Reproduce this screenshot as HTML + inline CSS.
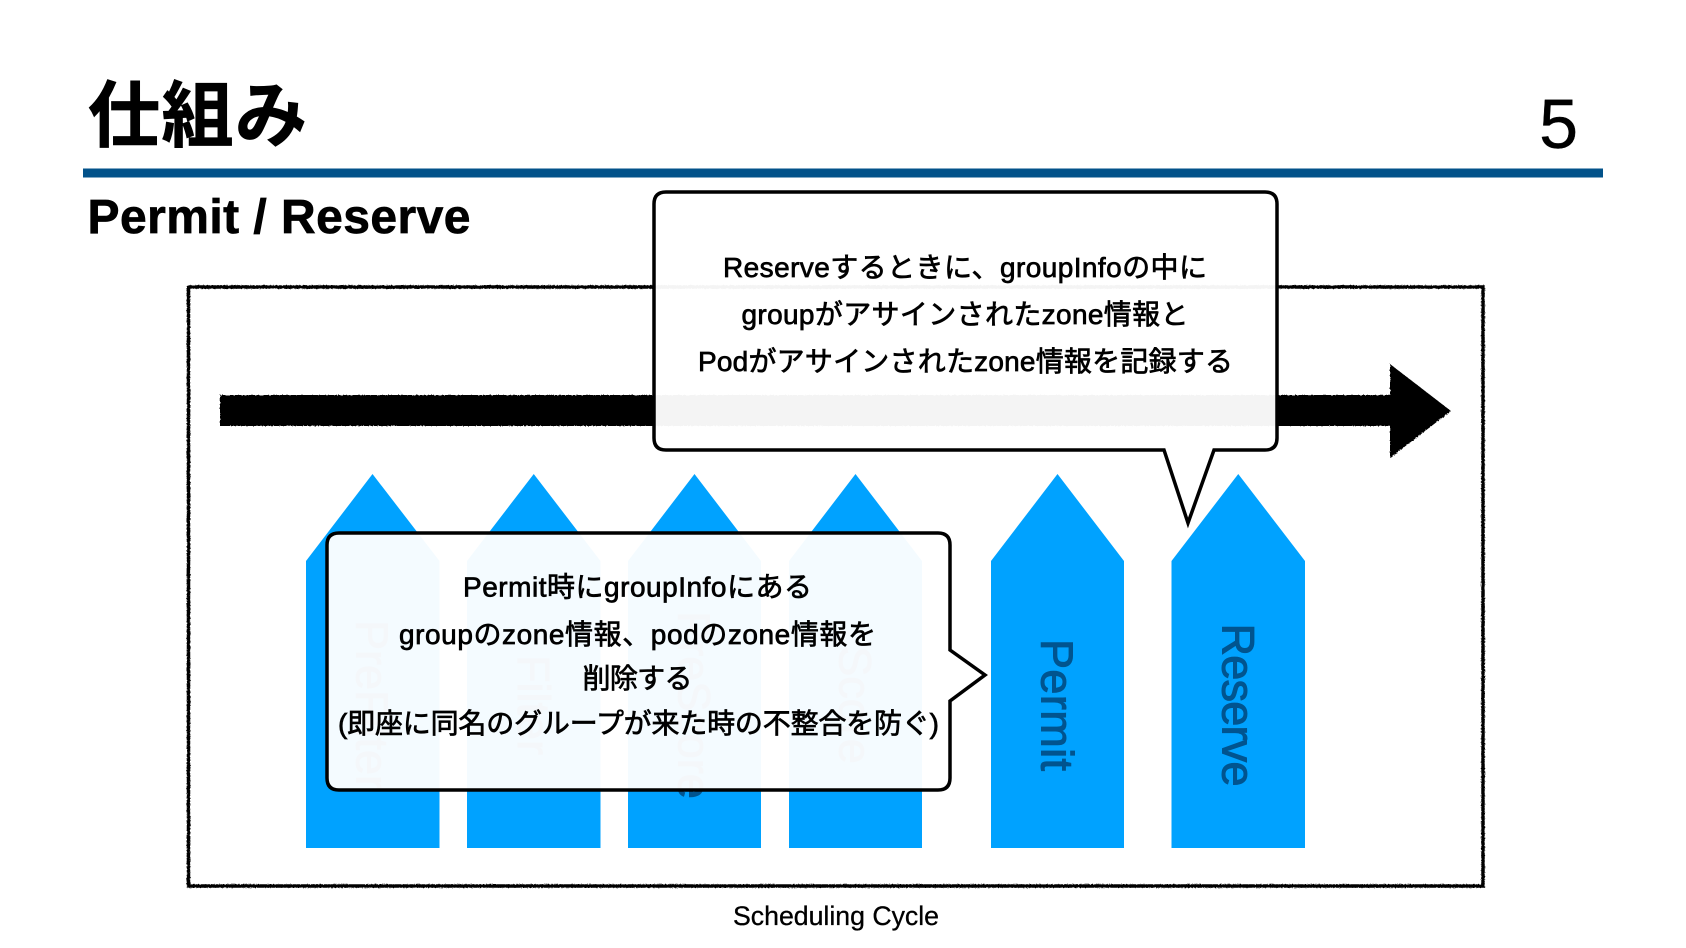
<!DOCTYPE html>
<html lang="ja"><head><meta charset="utf-8"><title>仕組み</title>
<style>html,body{margin:0;padding:0;background:#fff;width:1686px;height:948px;overflow:hidden}svg{display:block}
text{font-family:"Liberation Sans","Noto Sans CJK JP",sans-serif}
.c{font-size:28px;fill:#000;stroke:#000;stroke-width:.7;text-anchor:middle}
.b{font-size:45px;fill:#01548f;stroke:#01548f;stroke-width:1;text-anchor:middle}
</style></head><body>
<svg width="1686" height="948" viewBox="0 0 1686 948" xmlns="http://www.w3.org/2000/svg">
<defs><filter id="r" x="-2%" y="-2%" width="104%" height="104%"><feTurbulence type="fractalNoise" baseFrequency=".6" numOctaves="2" seed="3"/><feDisplacementMap in="SourceGraphic" scale="2"/></filter></defs>
<text x="88" y="141" font-size="72" font-weight="700" textLength="219" stroke="#000" stroke-width=".8" style="font-family:'Noto Sans CJK JP',sans-serif">仕組み</text>
<text x="1578" y="148" font-size="70" text-anchor="end" stroke="#000" stroke-width=".4">5</text>
<rect x="83" y="168.5" width="1520" height="9" fill="#02528a"/>
<text x="87.500" y="233" font-size="48" font-weight="700" textLength="383" stroke="#000" stroke-width=".7">Permit / Reserve</text>
<g filter="url(#r)">
<rect x="188.500" y="287" width="1294.500" height="599" fill="none" stroke="#000" stroke-width="3.500"/>
<path d="M220 395H1390V364L1451 411 1390 458V426H220Z" fill="#000"/>
</g>
<g fill="#00a2ff">
<path d="M306 561 372.500 474 439.500 561V848H306Z"/>
<path d="M467 561 533.750 474 600.500 561V848H467Z"/>
<path d="M628 561 694.500 474 761 561V848H628Z"/>
<path d="M789 561 855.500 474 922 561V848H789Z"/>
<path d="M991 561 1057.500 474 1124 561V848H991Z"/>
<path d="M1171.500 561 1238.250 474 1305 561V848H1171.500Z"/>
</g>
<g class="b">
<text class="b" transform="translate(356.500 705) rotate(90)">PreFilter</text>
<text class="b" transform="translate(517.750 705) rotate(90)">Filter</text>
<text class="b" transform="translate(678.500 705) rotate(90)">PreScore</text>
<text class="b" transform="translate(839.500 705) rotate(90)">Score</text>
<text class="b" transform="translate(1041.500 705) rotate(90)" textLength="132">Permit</text>
<text class="b" transform="translate(1222.250 705) rotate(90)" textLength="163">Reserve</text>
</g>
<path d="M666 192H1265Q1277 192 1277 204V438Q1277 450 1265 450H1214L1188 523 1164 450H666Q654 450 654 438V204Q654 192 666 192Z" fill="#fff" fill-opacity=".955" stroke="#000" stroke-width="3.500" stroke-linejoin="miter"/>
<path d="M339 533H938Q950 533 950 545V650L985 675 950 701V778Q950 790 938 790H339Q327 790 327 778V545Q327 533 339 533Z" fill="#fff" fill-opacity=".955" stroke="#000" stroke-width="3.500"/>
<text class="c" x="965" y="277" textLength="484">Reserveするときに、groupInfoの中に</text>
<text class="c" x="965" y="324" textLength="447">groupがアサインされたzone情報と</text>
<text class="c" x="965.500" y="371" textLength="535">Podがアサインされたzone情報を記録する</text>
<text class="c" x="637.500" y="596.500" textLength="349">Permit時にgroupInfoにある</text>
<text class="c" x="637.500" y="644" textLength="477">groupのzone情報、podのzone情報を</text>
<text class="c" x="637.500" y="688" textLength="110">削除する</text>
<text class="c" x="638.500" y="733" textLength="601">(即座に同名のグループが来た時の不整合を防ぐ)</text>
<text x="733" y="925" font-size="26.700" textLength="206" stroke="#000" stroke-width=".3">Scheduling Cycle</text>
</svg>
</body></html>
